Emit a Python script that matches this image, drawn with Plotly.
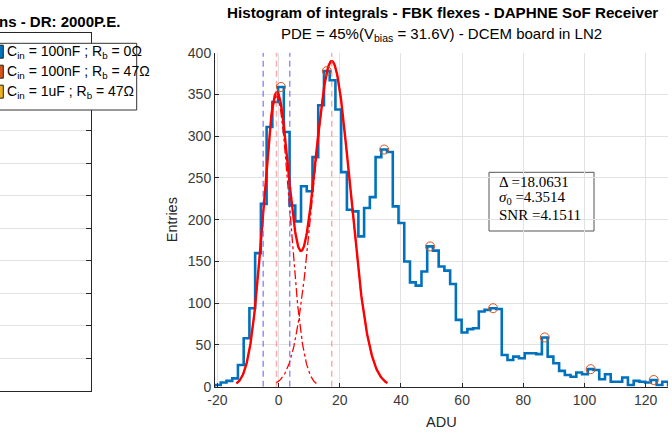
import numpy as np
import plotly.graph_objects as go

W, H = 672, 433

# ---------------- data ----------------
bin_start = -20.8      # ADU, left edge of first bin
bin_width = 1.875      # ADU
counts = [2, 5, 7, 10, 26, 58, 94, 160, 219, 311,
          341, 359, 305, 217, 198, 240, 234, 275, 337, 378,
          367, 332, 257, 212, 210, 180, 214, 227, 275, 284,
          281, 216, 196, 150, 125, 121, 138, 168, 163, 144,
          139, 123, 80, 65, 69, 70, 90, 92, 94, 93,
          38, 32, 36, 34, 40, 40, 39, 59, 36, 28,
          19, 14, 12, 17, 15, 21, 20, 9, 15, 6,
          6, 11, 2, 7, 6, 5, 8, 2, 6]
peak_bins = [11, 19, 29, 37, 48, 57, 65, 76]

# two-gaussian fit
amp0, mu0, sigma0 = 348.0, -0.70, 4.3514
amp1, sigma1 = 390.0, 6.06
delta = 18.0631
snr = 4.1511

x_range = [-20.8, 127.3]
y_range = [0, 400]
x_ticks = [-20, 0, 20, 40, 60, 80, 100, 120]
x_tick_labels = ["-20", "0", "20", "40", "60", "80", "100", "120"]
y_ticks = [0, 50, 100, 150, 200, 250, 300, 350, 400]

legend_labels = ["C<sub>in</sub> = 100nF ; R<sub>b</sub> = 0Ω",
                 "C<sub>in</sub> = 100nF ; R<sub>b</sub> = 47Ω",
                 "C<sub>in</sub> = 1uF ; R<sub>b</sub> = 47Ω"]
legend_colors = ["#0072BD", "#D95319", "#EDB120"]

# ---------------- derived ----------------
edges = bin_start + bin_width * np.arange(len(counts) + 1)
centers = 0.5 * (edges[:-1] + edges[1:])
mu1 = mu0 + delta

def gauss(x, a, m, s):
    return a * np.exp(-(x - m) ** 2 / (2 * s ** 2))

FONT = "Liberation Sans, Arial, sans-serif"
TXT = "#262626"
TICK = "#3a3a3a"
GRID = "#e2e2e2"

def px(xp):
    return xp / W

def py(yp):
    return 1 - yp / H

fig = go.Figure()

# histogram stairs
hx = [edges[0]] + list(edges[:-1]) + [edges[-1], edges[-1]]
hy = [0] + counts + [counts[-1], 0]
fig.add_trace(go.Scatter(x=hx, y=hy, mode="lines", line_shape="hv",
                         line=dict(color="#0072BD", width=2.6),
                         showlegend=False, hoverinfo="skip"))

# fit curves
xa = np.linspace(mu0 - 3 * sigma0, mu1 + 3 * sigma1, 400)
fig.add_trace(go.Scatter(x=xa, y=gauss(xa, amp0, mu0, sigma0) + gauss(xa, amp1, mu1, sigma1),
                         mode="lines", line=dict(color="#FF0000", width=2.4),
                         showlegend=False, hoverinfo="skip"))
x0c = np.linspace(mu0 - 3 * sigma0, mu0 + 3 * sigma0, 200)
fig.add_trace(go.Scatter(x=x0c, y=gauss(x0c, amp0, mu0, sigma0), mode="lines",
                         line=dict(color="#FF0000", width=1.3, dash="dashdot"),
                         showlegend=False, hoverinfo="skip"))
x1c = np.linspace(mu1 - 3 * sigma1, mu1 + 3 * sigma1, 200)
fig.add_trace(go.Scatter(x=x1c, y=gauss(x1c, amp1, mu1, sigma1), mode="lines",
                         line=dict(color="#FF0000", width=1.3, dash="dashdot"),
                         showlegend=False, hoverinfo="skip"))

# vertical reference lines
for xv in [mu0 - sigma0, mu0 + sigma0]:
    fig.add_trace(go.Scatter(x=[xv, xv], y=y_range, mode="lines",
                             line=dict(color="rgba(70,70,255,0.75)", width=1.2, dash="6px,4px"),
                             showlegend=False, hoverinfo="skip"))
for xv in [mu0, mu1]:
    fig.add_trace(go.Scatter(x=[xv, xv], y=y_range, mode="lines",
                             line=dict(color="rgba(255,100,100,0.55)", width=1.5, dash="6px,4px"),
                             showlegend=False, hoverinfo="skip"))

# peak markers
fig.add_trace(go.Scatter(x=[centers[i] for i in peak_bins], y=[counts[i] for i in peak_bins],
                         mode="markers", marker=dict(symbol="circle-open", size=9,
                                                     color="#D95319", line=dict(width=1)),
                         showlegend=False, hoverinfo="skip", cliponaxis=False))

# empty trace for the left subplot
fig.add_trace(go.Scatter(x=[None], y=[None], xaxis="x2", yaxis="y2", showlegend=False))

fig.update_layout(
    width=W, height=H, margin=dict(l=0, r=0, t=0, b=0, autoexpand=False),
    paper_bgcolor="white", plot_bgcolor="white", showlegend=False,
    font=dict(family=FONT, color=TXT, size=14),
    xaxis=dict(domain=[px(215), px(668)], range=x_range, tickvals=x_ticks,
               ticktext=x_tick_labels,
               ticks="inside", ticklen=4, tickcolor=TXT, showline=True, linecolor=TXT,
               linewidth=1, showgrid=True, gridcolor=GRID, zeroline=False,
               tickfont=dict(size=14, color=TICK), anchor="y"),
    yaxis=dict(domain=[py(386.7), py(52.7)], range=y_range, tickvals=y_ticks,
               ticks="inside", ticklen=4, tickcolor=TXT, showline=True, linecolor=TXT,
               linewidth=1, showgrid=True, gridcolor=GRID, zeroline=False,
               tickfont=dict(size=14, color=TICK), anchor="x"),
    xaxis2=dict(domain=[0, px(91)], range=[0, 1], showgrid=False, showline=True,
                mirror=True, linecolor=TXT, linewidth=1, showticklabels=False,
                ticks="", zeroline=False, anchor="y2"),
    yaxis2=dict(domain=[py(391), py(33.3)], range=[0, 1100], dtick=100, side="right",
                ticks="inside", ticklen=5, tickcolor=TXT, showline=True, linecolor=TXT,
                linewidth=1, showgrid=True, gridcolor=GRID, showticklabels=False,
                zeroline=False, anchor="x2"),
)

ann = []
ann.append(dict(text="<b>Histogram of integrals - FBK flexes - DAPHNE SoF Receiver</b>",
                x=px(442), y=py(12.5), xanchor="center", yanchor="middle",
                font=dict(size=15.2, color="black")))
ann.append(dict(text="PDE = 45%(V<sub>bias</sub> = 31.6V) - DCEM board in LN2",
                x=px(441.5), y=py(35), xanchor="center", yanchor="middle",
                font=dict(size=15, color="black")))
ann.append(dict(text="<b>ns - DR: 2000P.E.</b>", x=px(122), y=py(21.7),
                xanchor="right", yanchor="middle", font=dict(size=15, color="black")))
ann.append(dict(text="Entries", x=px(171.5), y=py(219.7), textangle=-90,
                xanchor="center", yanchor="middle", font=dict(size=14.5, color=TXT)))
ann.append(dict(text="ADU", x=px(441.5), y=py(422), xanchor="center", yanchor="middle",
                font=dict(size=14.5, color=TXT)))

SERIF = "Liberation Serif, Times New Roman, serif"
box_lines = ["Δ =%.4f" % delta, "<i>σ</i><sub>0</sub> =%.4f" % sigma0, "SNR =%.4f" % snr]
for t, yc in zip(box_lines, [181.7, 198.5, 215]):
    ann.append(dict(text=t, x=px(496.5), y=py(yc), xanchor="left", yanchor="middle",
                    font=dict(family=SERIF, size=15, color="black")))

for t, yc in zip(legend_labels, [51.7, 71.7, 91.7]):
    ann.append(dict(text=t, x=px(5), y=py(yc), xanchor="left", yanchor="middle",
                    font=dict(size=14, color="black")))

for a in ann:
    a.update(xref="paper", yref="paper", showarrow=False)
fig.update_layout(annotations=ann)

shapes = []
shapes.append(dict(type="rect", xref="paper", yref="paper", x0=px(489), x1=px(594),
                   y0=py(231), y1=py(172.3), line=dict(color="#555555", width=1),
                   fillcolor="white", layer="below"))
shapes.append(dict(type="rect", xref="paper", yref="paper", x0=px(-3), x1=px(136.7),
                   y0=py(110), y1=py(43.3), line=dict(color="#333333", width=1),
                   fillcolor="white", layer="above"))
for c, yc in zip(legend_colors, [51.7, 71.7, 91.7]):
    shapes.append(dict(type="rect", xref="paper", yref="paper", x0=px(-8), x1=px(3.3),
                       y0=py(yc + 6.5), y1=py(yc - 6.5), line=dict(color="#222222", width=1),
                       fillcolor=c, layer="above"))
fig.update_layout(shapes=shapes)

fig.write_html("out.html")
